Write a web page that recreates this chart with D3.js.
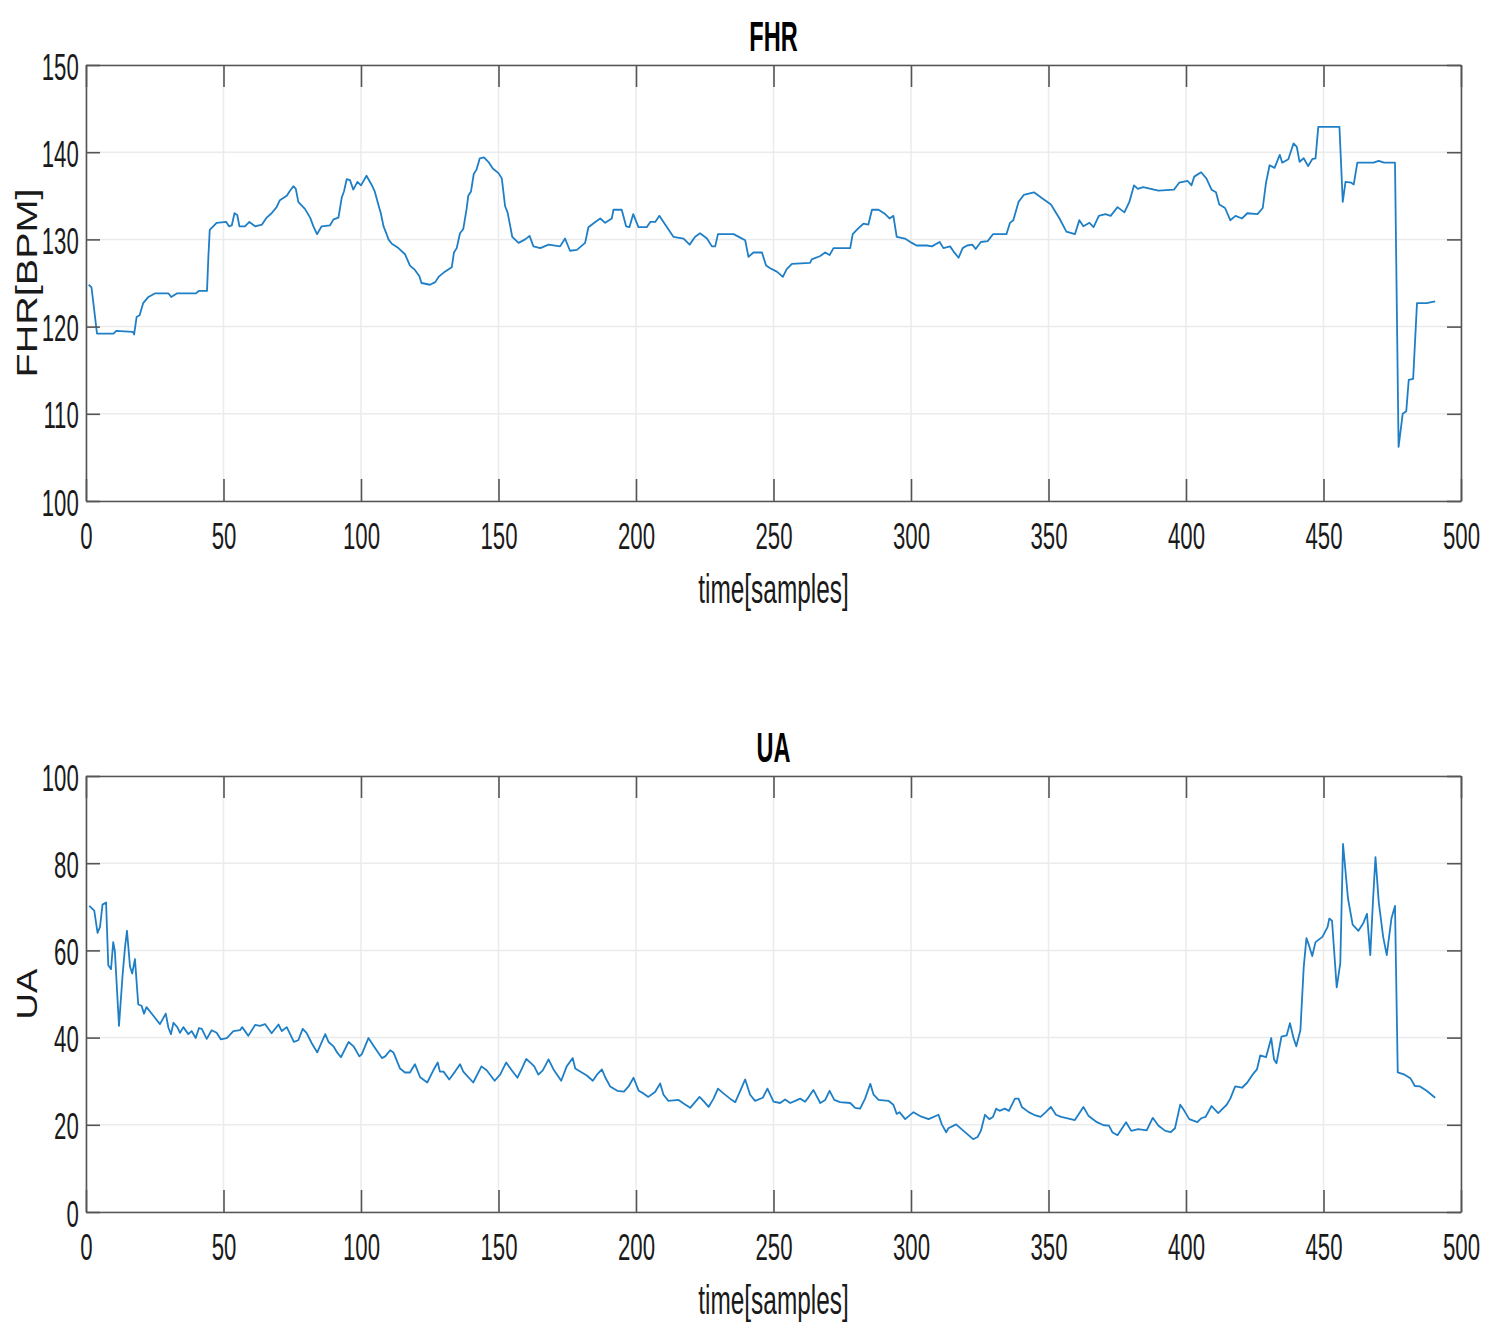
<!DOCTYPE html>
<html>
<head>
<meta charset="utf-8">
<script src="https://cdn.jsdelivr.net/npm/d3@7"></script>
<style>
  body { margin: 0; background: #fff; }
  text { font-family: "Liberation Sans", Arial, sans-serif; fill: #1a1a1a; }
</style>
</head>
<body>
<script>

// FHR trace (sample index, BPM)
var fhrTime = [1, 2, 4, 10, 11, 17, 17.5, 18.4, 19.5, 20.8, 22.7, 25, 30, 31, 33, 40, 41, 44, 44.5, 45,
    47.5, 51, 52, 53, 54, 55, 55.8, 57.8, 59.4, 61.5, 64, 65.7, 67.5, 69.3, 70.5, 73, 74, 75.4, 76.3, 77.2,
    79.6, 81.5, 82.7, 84, 85.7, 88.7, 90, 91.8, 93, 93.8, 94.8, 96, 97.2, 98.7, 100, 102, 103.8, 105, 106.3, 107.2,
    108.2, 109.2, 110, 111.2, 113.6, 116, 117.8, 119.6, 121.2, 122, 125.1, 127, 128.2, 130.5, 133, 133.8, 134.8, 136, 137.2, 138.4,
    139, 140, 141, 142, 143.2, 144.7, 146.3, 148, 150, 151.2, 152.4, 153.3, 155, 157.3, 159.7, 161.3, 162.7, 165.2, 168.2, 172.4,
    174.2, 176, 178.5, 181.5, 182.7, 185.2, 187, 188.8, 191.2, 191.8, 194.8, 196.4, 197.6, 199, 200.9, 203.9, 205.2, 207, 208.5, 210.6,
    213.6, 217.3, 219.5, 221.5, 223.3, 225.8, 227.6, 228.8, 229.8, 235.5, 237.9, 239.7, 240.9, 242.7, 245.8, 247.3, 248.8, 251.2, 253.4, 254.8,
    256.7, 263.3, 263.9, 267, 268.8, 270.4, 271.8, 277.9, 278.8, 280.9, 282.7, 284.5, 285.8, 288.2, 290.6, 292.2, 293.6, 294.8, 297.8, 300.3,
    302, 305.8, 307.6, 310.4, 311.8, 314.2, 315.5, 317.3, 318.8, 320.4, 322.3, 323.5, 325.4, 327.9, 329.8, 334.7, 336, 337.2, 339.1, 341,
    344.7, 347.8, 350.9, 354, 356.5, 359.6, 361.2, 362.7, 364.9, 366.4, 368.3, 370.7, 372.6, 375.1, 377.6, 379.4, 381.1, 382.5, 384.4, 390,
    395.6, 397.5, 400.6, 402, 403, 405.5, 407.4, 409.3, 410.9, 412.1, 414.2, 416.1, 418, 420.4, 422.3, 426, 427.9, 429.1, 430.4, 432.2,
    434.1, 435, 437.2, 439.1, 440.3, 441.3, 442.8, 444.4, 445.9, 447.1, 448.1, 455.8, 457, 458, 460.1, 461, 462.3, 468.2, 470.1, 472,
    476, 477.3, 478.8, 480.1, 481, 482.6, 484, 487.5, 490.6];
var fhrValues = [124.8, 124.5, 119.2, 119.2, 119.5, 119.4, 119.1, 121.1, 121.3, 122.7, 123.4, 123.8, 123.8, 123.4, 123.8, 123.8, 124.1, 124.1, 128, 131.1,
    131.9, 132, 131.5, 131.6, 133, 132.8, 131.5, 131.5, 132, 131.5, 131.7, 132.5, 133, 133.7, 134.5, 135, 135.5, 136.1, 135.8, 134.3,
    133.5, 132.5, 131.5, 130.6, 131.5, 131.6, 132.3, 132.5, 134.8, 135.5, 136.9, 136.8, 135.7, 136.6, 136.2, 137.3, 136.3, 135.5, 134, 133,
    131.5, 130.7, 130, 129.5, 129, 128.3, 127, 126.5, 125.8, 125, 124.8, 125.1, 125.7, 126.3, 126.8, 128.5, 129, 130.7, 131.2, 133.5,
    135, 135.5, 137.5, 138, 139.3, 139.4, 138.9, 138.1, 137.6, 137, 133.8, 133.1, 130.3, 129.6, 130, 130.4, 129.2, 129, 129.4, 129.2,
    130.1, 128.7, 128.8, 129.6, 131.4, 132, 132.4, 131.9, 132.4, 133.4, 133.4, 131.5, 131.4, 132.9, 131.4, 131.4, 132, 132, 132.7, 131.7,
    130.3, 130.1, 129.4, 130.3, 130.7, 130.1, 129.2, 129.2, 130.6, 130.6, 130.2, 129.9, 128, 128.5, 128.5, 127, 126.7, 126.3, 125.7, 126.6,
    127.2, 127.3, 127.7, 128.1, 128.5, 128.2, 129, 129, 130.6, 131.3, 131.8, 131.7, 133.4, 133.4, 132.9, 132.4, 132.7, 130.3, 130.1, 129.6,
    129.3, 129.3, 129.2, 129.7, 129, 129.2, 128.6, 127.9, 129, 129.3, 129.4, 128.9, 129.7, 129.8, 130.6, 130.6, 131.9, 132.2, 134.3, 135.1,
    135.4, 134.7, 134, 132.4, 130.9, 130.6, 132.2, 131.5, 131.9, 131.4, 132.7, 132.9, 132.7, 133.7, 133.1, 134.3, 136.2, 135.8, 136, 135.6,
    135.7, 136.5, 136.7, 136.2, 137.2, 137.7, 137, 135.7, 135.4, 134, 133.6, 132.2, 132.7, 132.4, 133, 132.9, 133.6, 136.5, 138.5, 138.2,
    139.7, 138.8, 139.2, 141, 140.6, 138.9, 139.3, 138.4, 139.2, 139.3, 142.9, 142.9, 134.3, 136.6, 136.5, 136.3, 138.8, 138.8, 139, 138.8,
    138.8, 106.2, 110, 110.3, 113.9, 114, 122.7, 122.7, 122.9];

// UA trace (sample index, UA)
var uaTime = [1.2, 3, 4.2, 5.1, 6, 7.3, 8.1, 9.1, 9.9, 10.5, 12, 13.3, 14.2, 14.9, 16, 16.8, 17.8, 19, 20.2, 21.1,
    22, 24.5, 26.9, 29, 30, 30.9, 31.8, 33.2, 34.2, 35.4, 37.2, 38.4, 39.9, 41.1, 42.1, 43.9, 45.7, 47.5, 49, 51.2,
    53.6, 56, 56.8, 59, 61.5, 63.3, 65.1, 67.5, 70, 71.2, 73, 75.6, 77.2, 78.8, 80.2, 82.1, 84.1, 85.4, 87, 88.2,
    90, 91.3, 92.7, 95.5, 97.3, 99.4, 100.3, 102.7, 105.1, 107.6, 108.8, 110.6, 111.8, 114.2, 116, 117.8, 119.6, 121.5, 124.1, 126.3,
    127.9, 128.7, 130, 132.1, 134.2, 136, 137.2, 140.8, 143.8, 145.7, 148.6, 150.6, 152.8, 154.8, 156.9, 158.5, 160.1, 161.5, 163, 164.5,
    166.1, 168.2, 170, 171.5, 172.8, 174.8, 177, 177.9, 179.7, 182.1, 184.3, 185.8, 187.6, 188.8, 190.6, 193.2, 195.6, 197.3, 199.1, 201,
    202.7, 204.5, 207, 208.8, 210, 211.8, 215.5, 217.3, 219.7, 223.1, 224.5, 226.4, 228.2, 229.8, 231.8, 234.2, 236.1, 237.9, 239.7, 241.5,
    243.3, 246.1, 247.8, 250, 252.4, 254.2, 256.1, 257.9, 259.7, 261.5, 262.7, 264.5, 267, 268.8, 270.4, 272.1, 274.2, 277.9, 279.7, 281.5,
    283.3, 285.2, 286.4, 288.2, 291.8, 293.6, 294.8, 295.8, 297.9, 300.9, 303.3, 306.4, 310, 311.2, 312.8, 313.6, 316.4, 319.1, 322.6, 324.2,
    325.4, 326.9, 328.5, 329.8, 331, 332.2, 334.1, 335.6, 337.8, 339.1, 340.3, 342.8, 344.7, 347.1, 349, 350.9, 352.7, 354.6, 359.6, 362.7,
    364.6, 367.6, 370.1, 372, 373.2, 375.1, 378.2, 380.1, 382.6, 385.7, 387.9, 390, 392.5, 394.4, 396, 397.9, 399.4, 401.2, 404.1, 405.5,
    407.1, 409.3, 411.7, 414.8, 416.1, 417.9, 420.4, 422.3, 424.2, 425.8, 427, 429.1, 431, 432, 432.9, 434.7, 436.6, 437.8, 439.1, 440.1,
    441.6, 442.8, 443.8, 444.7, 445.9, 447.1, 449.6, 451.5, 452.1, 453.1, 454.8, 456.1, 457.1, 458.9, 460.6, 462.7, 464.5, 465.8, 467, 468,
    468.9, 470.1, 471.7, 473, 474.7, 476, 477, 479.5, 481.7, 483.2, 485.1, 487.5, 490.6];
var uaValues = [70.2, 69.1, 64, 65.4, 70.5, 71, 56.6, 55.7, 61.9, 59.8, 42.7, 54.3, 60.8, 64.5, 56.3, 54.7, 58, 47.6, 47.3, 45.5,
    47, 45, 43.1, 45.5, 42.2, 40.8, 43.4, 42.4, 41.1, 42.4, 40.8, 41.5, 39.9, 42.2, 42, 39.7, 41.7, 41.1, 39.6, 39.9,
    41.5, 41.7, 42.4, 40.4, 42.9, 42.7, 43.1, 41, 43, 41.5, 42.4, 39, 39.4, 42, 41.1, 38.7, 36.6, 38.5, 40.8, 39,
    38, 36.6, 35.5, 39, 38, 35.7, 36.2, 39.9, 37.6, 35.3, 35.7, 37.1, 36.6, 32.9, 32, 32, 33.9, 30.9, 29.7, 32.5,
    34.3, 32.2, 32.2, 30.4, 32.2, 33.9, 32.2, 29.7, 33.4, 32.5, 30.1, 31.5, 34.3, 32.5, 30.8, 32.9, 35.1, 34.3, 33.4, 31.5,
    32.5, 35, 32.7, 31.3, 30.1, 33.4, 35.3, 32.9, 32.2, 31.3, 30.1, 31.5, 32.7, 30.9, 28.8, 27.8, 27.6, 28.8, 30.8, 27.8,
    27.2, 26.4, 27.6, 29.5, 26.9, 25.5, 25.7, 24.9, 23.9, 26.4, 25.5, 24.1, 26, 28.3, 27.2, 26, 25.2, 27.8, 30.4, 26.9,
    25.5, 26.2, 28.3, 25.3, 25, 25.8, 25, 25.5, 26, 25.3, 26.3, 28, 25, 25.7, 27.8, 25.7, 25.2, 25, 23.9, 23.7,
    26, 29.4, 26.9, 25.7, 25.5, 24.6, 22.5, 22.9, 21.3, 22.9, 22, 21.3, 22.3, 20.1, 18.3, 19.2, 20.1, 18.6, 16.7, 17.2,
    18.6, 22.3, 21.3, 21.8, 23.7, 23.2, 23.7, 23.2, 26, 26, 24.1, 22.9, 22.3, 21.8, 22.9, 24.1, 22.3, 21.8, 21.1, 24.1,
    22, 20.6, 19.9, 19.8, 18.3, 17.6, 20.6, 18.6, 19, 18.7, 21.6, 19.8, 18.6, 18.3, 19.2, 24.6, 23.2, 21.3, 20.6, 21.5,
    21.8, 24.3, 22.7, 24.6, 26, 28.8, 28.5, 29.7, 31.5, 32.7, 35.9, 35.5, 39.9, 35, 34.1, 40.2, 40.5, 43.3, 39.9, 38,
    41.7, 56.1, 62.8, 61.2, 58.7, 61.9, 63.1, 65.4, 67.3, 66.8, 51.5, 57, 84.4, 71.9, 65.9, 64.5, 66.3, 68.4, 58.9, 71.4,
    81.4, 71, 63.1, 58.9, 67.3, 70.2, 32, 31.5, 30.6, 28.9, 28.8, 27.8, 26.2];

var xTicks   = [0, 50, 100, 150, 200, 250, 300, 350, 400, 450, 500];
var fhrTicks = [100, 110, 120, 130, 140, 150];
var uaTicks  = [0, 20, 40, 60, 80, 100];

var width  = 1496,
    height = 1335,
    left   = 86,
    right  = 1461;

const svg = d3.select("body")
    .append("svg")
    .attr("width", width)
    .attr("height", height)
    .style("background", "#fff");

const x = d3.scaleLinear().domain([0, 500]).range([left, right]);

var axisColor = "#555",
    gridColor = "#ebebeb",
    lineColor = "#1f7fc6";

function styleAxis(g) {
    g.select(".domain").attr("stroke", axisColor).attr("stroke-width", 1.6);
    g.selectAll(".tick line").attr("stroke", axisColor).attr("stroke-width", 1.6);
}

function drawPanel(p) {
    const y = d3.scaleLinear().domain(p.domain).range([p.bottom, p.top]);
    const g = svg.append("g");

    // grid
    g.append("g").selectAll("line")
        .data(xTicks)
        .join("line")
        .attr("x1", d => x(d)).attr("x2", d => x(d))
        .attr("y1", p.top).attr("y2", p.bottom)
        .attr("stroke", gridColor).attr("stroke-width", 1.5);
    g.append("g").selectAll("line")
        .data(p.ticks)
        .join("line")
        .attr("x1", left).attr("x2", right)
        .attr("y1", d => y(d)).attr("y2", d => y(d))
        .attr("stroke", gridColor).attr("stroke-width", 1.5);

    // the trace
    const line = d3.line()
        .x((d, i) => x(p.t[i]))
        .y(d => y(d));
    g.append("path")
        .datum(p.v)
        .attr("d", line)
        .attr("fill", "none")
        .attr("stroke", lineColor)
        .attr("stroke-width", 1.8)
        .attr("stroke-linejoin", "round");

    // box with inward ticks
    const bottomAxis = g.append("g")
        .attr("transform", `translate(0,${p.bottom})`)
        .call(d3.axisBottom(x).tickValues(xTicks).tickSizeInner(-22).tickSizeOuter(0).tickPadding(22));
    bottomAxis.selectAll(".tick text")
        .attr("font-size", 37)
        .attr("transform", "scale(0.6,1)");
    styleAxis(bottomAxis);

    const topAxis = g.append("g")
        .attr("transform", `translate(0,${p.top})`)
        .call(d3.axisTop(x).tickValues(xTicks).tickSizeInner(-22).tickSizeOuter(0).tickFormat(""));
    styleAxis(topAxis);

    const leftAxis = g.append("g")
        .attr("transform", `translate(${left},0)`)
        .call(d3.axisLeft(y).tickValues(p.ticks).tickSizeInner(-14).tickSizeOuter(0).tickPadding(12));
    leftAxis.selectAll(".tick text")
        .attr("font-size", 37)
        .attr("dy", "0.38em")
        .attr("transform", "scale(0.6,1)");
    styleAxis(leftAxis);

    const rightAxis = g.append("g")
        .attr("transform", `translate(${right},0)`)
        .call(d3.axisRight(y).tickValues(p.ticks).tickSizeInner(-14).tickSizeOuter(0).tickFormat(""));
    styleAxis(rightAxis);

    // title
    g.append("text")
        .attr("transform", `translate(${(left + right) / 2},${p.top - 14}) scale(0.56,1)`)
        .attr("text-anchor", "middle")
        .attr("font-size", 42)
        .attr("font-weight", "bold")
        .style("fill", "#000")
        .text(p.title);

    // x label
    g.append("text")
        .attr("transform", `translate(${(left + right) / 2},${p.bottom + 102}) scale(0.61,1)`)
        .attr("text-anchor", "middle")
        .attr("font-size", 40)
        .text("time[samples]");

    // y label
    g.append("text")
        .attr("transform", `translate(37,${(p.top + p.bottom) / 2}) rotate(-90) scale(${p.ylabelStretch},1)`)
        .attr("text-anchor", "middle")
        .attr("font-size", 30)
        .text(p.ylabel);
}

drawPanel({
    title: "FHR", ylabel: "FHR[BPM]", ylabelStretch: 1.32,
    t: fhrTime, v: fhrValues, domain: [100, 150], ticks: fhrTicks,
    top: 65, bottom: 501
});

drawPanel({
    title: "UA", ylabel: "UA", ylabelStretch: 1.22,
    t: uaTime, v: uaValues, domain: [0, 100], ticks: uaTicks,
    top: 776, bottom: 1212
});
</script>
</body>
</html>
